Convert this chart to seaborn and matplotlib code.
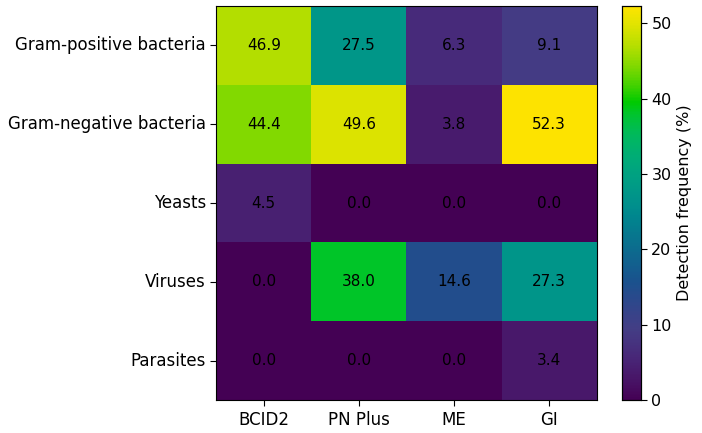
import numpy as np
import pandas as pd
import matplotlib
matplotlib.use("Agg")
import matplotlib.pyplot as plt
import matplotlib.colors as mcolors
import seaborn as sns

# values
organisms = ["Gram-positive bacteria", "Gram-negative bacteria", "Yeasts", "Viruses", "Parasites"]
panels = ["BCID2", "PN Plus", "ME", "GI"]
bcid2 = [46.9, 44.4, 4.5, 0.0, 0.0]
pn_plus = [27.5, 49.6, 0.0, 38.0, 0.0]
me = [6.3, 3.8, 0.0, 14.6, 0.0]
gi = [9.1, 52.3, 0.0, 27.3, 3.4]

df = pd.DataFrame({"BCID2": bcid2, "PN Plus": pn_plus, "ME": me, "GI": gi}, index=organisms)[panels]

# the reference viridis is more saturated in the blue/green/yellow part
t = np.linspace(0, 1, 256)
base = plt.get_cmap("viridis")(t)[:, :3]
hsv = mcolors.rgb_to_hsv(base)
boost = np.interp(t, [0, 0.18, 0.3, 0.55, 0.75, 1], [1, 1, 1.3, 1.35, 1.9, 1.9])
hsv[:, 1] = np.clip(hsv[:, 1] * boost, 0, 1)
cmap = mcolors.ListedColormap(mcolors.hsv_to_rgb(hsv))

fig = plt.figure(figsize=(7.02, 4.33), dpi=100)
ax = fig.add_axes([0.308, 0.076, 0.542, 0.910])
cax = fig.add_axes([0.886, 0.076, 0.027, 0.910])

sns.heatmap(df, ax=ax, cbar_ax=cax, cmap=cmap, annot=True, fmt=".1f",
            annot_kws={"color": "black", "fontsize": 11},
            cbar_kws={"label": "Detection frequency (%)"})

for sp in ax.spines.values():
    sp.set_visible(True)
    sp.set_color("black")
    sp.set_linewidth(0.8)

ax.tick_params(axis="both", labelsize=12, length=4)
ax.set_yticklabels(organisms, rotation=0)
ax.set_xticklabels(panels, rotation=0)

cax.tick_params(labelsize=11.5, length=4)
cax.set_yticks([0, 10, 20, 30, 40, 50])
cax.yaxis.label.set_size(11.5)
for sp in cax.spines.values():
    sp.set_visible(True)
    sp.set_linewidth(0.8)

fig.savefig("out.png", dpi=100)
